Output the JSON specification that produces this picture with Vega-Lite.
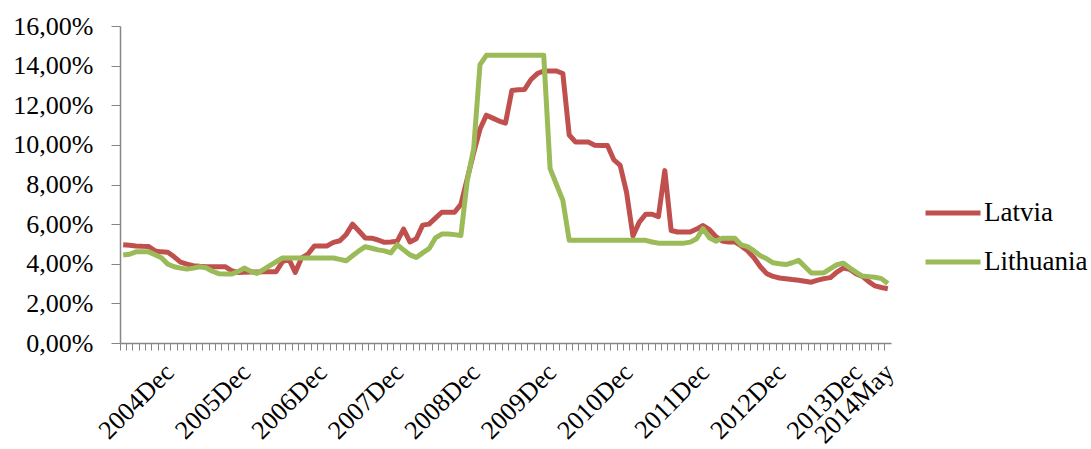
{
  "$schema": "https://vega.github.io/schema/vega-lite/v6.json",
  "autosize": "none",
  "width": 771,
  "height": 317,
  "padding": {"left": 120, "top": 26, "right": 200, "bottom": 106},
  "config": {
    "font": "Liberation Serif",
    "view": {"stroke": null}
  },
  "data": {
    "values": [
      {"m": "2004May", "Latvia": 4.96, "Lithuania": 4.44},
      {"m": "2004Jun", "Latvia": 4.93, "Lithuania": 4.48},
      {"m": "2004Jul", "Latvia": 4.90, "Lithuania": 4.60},
      {"m": "2004Aug", "Latvia": 4.88, "Lithuania": 4.60},
      {"m": "2004Sep", "Latvia": 4.87, "Lithuania": 4.60},
      {"m": "2004Oct", "Latvia": 4.65, "Lithuania": 4.45},
      {"m": "2004Nov", "Latvia": 4.60, "Lithuania": 4.30},
      {"m": "2004Dec", "Latvia": 4.58, "Lithuania": 3.98},
      {"m": "2005Jan", "Latvia": 4.35, "Lithuania": 3.85},
      {"m": "2005Feb", "Latvia": 4.08, "Lithuania": 3.78},
      {"m": "2005Mar", "Latvia": 3.98, "Lithuania": 3.73},
      {"m": "2005Apr", "Latvia": 3.90, "Lithuania": 3.78},
      {"m": "2005May", "Latvia": 3.87, "Lithuania": 3.85},
      {"m": "2005Jun", "Latvia": 3.85, "Lithuania": 3.80},
      {"m": "2005Jul", "Latvia": 3.85, "Lithuania": 3.62},
      {"m": "2005Aug", "Latvia": 3.85, "Lithuania": 3.50},
      {"m": "2005Sep", "Latvia": 3.85, "Lithuania": 3.48},
      {"m": "2005Oct", "Latvia": 3.65, "Lithuania": 3.48},
      {"m": "2005Nov", "Latvia": 3.56, "Lithuania": 3.60},
      {"m": "2005Dec", "Latvia": 3.57, "Lithuania": 3.78},
      {"m": "2006Jan", "Latvia": 3.58, "Lithuania": 3.62},
      {"m": "2006Feb", "Latvia": 3.58, "Lithuania": 3.51},
      {"m": "2006Mar", "Latvia": 3.60, "Lithuania": 3.70},
      {"m": "2006Apr", "Latvia": 3.60, "Lithuania": 3.90},
      {"m": "2006May", "Latvia": 3.60, "Lithuania": 4.10},
      {"m": "2006Jun", "Latvia": 4.10, "Lithuania": 4.29},
      {"m": "2006Jul", "Latvia": 4.24, "Lithuania": 4.29},
      {"m": "2006Aug", "Latvia": 3.56, "Lithuania": 4.29},
      {"m": "2006Sep", "Latvia": 4.30, "Lithuania": 4.29},
      {"m": "2006Oct", "Latvia": 4.49, "Lithuania": 4.29},
      {"m": "2006Nov", "Latvia": 4.90, "Lithuania": 4.29},
      {"m": "2006Dec", "Latvia": 4.90, "Lithuania": 4.29},
      {"m": "2007Jan", "Latvia": 4.90, "Lithuania": 4.29},
      {"m": "2007Feb", "Latvia": 5.08, "Lithuania": 4.29},
      {"m": "2007Mar", "Latvia": 5.16, "Lithuania": 4.22},
      {"m": "2007Apr", "Latvia": 5.48, "Lithuania": 4.15},
      {"m": "2007May", "Latvia": 6.00, "Lithuania": 4.40},
      {"m": "2007Jun", "Latvia": 5.65, "Lithuania": 4.65},
      {"m": "2007Jul", "Latvia": 5.30, "Lithuania": 4.86},
      {"m": "2007Aug", "Latvia": 5.29, "Lithuania": 4.78},
      {"m": "2007Sep", "Latvia": 5.20, "Lithuania": 4.70},
      {"m": "2007Oct", "Latvia": 5.08, "Lithuania": 4.65},
      {"m": "2007Nov", "Latvia": 5.10, "Lithuania": 4.55},
      {"m": "2007Dec", "Latvia": 5.13, "Lithuania": 4.96},
      {"m": "2008Jan", "Latvia": 5.75, "Lithuania": 4.70},
      {"m": "2008Feb", "Latvia": 5.10, "Lithuania": 4.45},
      {"m": "2008Mar", "Latvia": 5.26, "Lithuania": 4.32},
      {"m": "2008Apr", "Latvia": 5.95, "Lithuania": 4.55},
      {"m": "2008May", "Latvia": 6.00, "Lithuania": 4.76},
      {"m": "2008Jun", "Latvia": 6.30, "Lithuania": 5.30},
      {"m": "2008Jul", "Latvia": 6.60, "Lithuania": 5.50},
      {"m": "2008Aug", "Latvia": 6.60, "Lithuania": 5.50},
      {"m": "2008Sep", "Latvia": 6.60, "Lithuania": 5.47},
      {"m": "2008Oct", "Latvia": 7.00, "Lithuania": 5.43},
      {"m": "2008Nov", "Latvia": 8.30, "Lithuania": 8.20},
      {"m": "2008Dec", "Latvia": 9.60, "Lithuania": 9.80},
      {"m": "2009Jan", "Latvia": 10.80, "Lithuania": 14.05},
      {"m": "2009Feb", "Latvia": 11.50, "Lithuania": 14.52},
      {"m": "2009Mar", "Latvia": 11.35, "Lithuania": 14.52},
      {"m": "2009Apr", "Latvia": 11.20, "Lithuania": 14.52},
      {"m": "2009May", "Latvia": 11.10, "Lithuania": 14.52},
      {"m": "2009Jun", "Latvia": 12.75, "Lithuania": 14.52},
      {"m": "2009Jul", "Latvia": 12.78, "Lithuania": 14.52},
      {"m": "2009Aug", "Latvia": 12.80, "Lithuania": 14.52},
      {"m": "2009Sep", "Latvia": 13.30, "Lithuania": 14.52},
      {"m": "2009Oct", "Latvia": 13.60, "Lithuania": 14.52},
      {"m": "2009Nov", "Latvia": 13.73, "Lithuania": 14.52},
      {"m": "2009Dec", "Latvia": 13.73, "Lithuania": 8.80},
      {"m": "2010Jan", "Latvia": 13.73, "Lithuania": 8.00},
      {"m": "2010Feb", "Latvia": 13.60, "Lithuania": 7.20},
      {"m": "2010Mar", "Latvia": 10.50, "Lithuania": 5.18},
      {"m": "2010Apr", "Latvia": 10.14, "Lithuania": 5.18},
      {"m": "2010May", "Latvia": 10.14, "Lithuania": 5.18},
      {"m": "2010Jun", "Latvia": 10.14, "Lithuania": 5.18},
      {"m": "2010Jul", "Latvia": 9.98, "Lithuania": 5.18},
      {"m": "2010Aug", "Latvia": 9.97, "Lithuania": 5.18},
      {"m": "2010Sep", "Latvia": 9.97, "Lithuania": 5.18},
      {"m": "2010Oct", "Latvia": 9.25, "Lithuania": 5.18},
      {"m": "2010Nov", "Latvia": 8.96, "Lithuania": 5.18},
      {"m": "2010Dec", "Latvia": 7.60, "Lithuania": 5.18},
      {"m": "2011Jan", "Latvia": 5.40, "Lithuania": 5.18},
      {"m": "2011Feb", "Latvia": 6.10, "Lithuania": 5.18},
      {"m": "2011Mar", "Latvia": 6.50, "Lithuania": 5.18},
      {"m": "2011Apr", "Latvia": 6.50, "Lithuania": 5.10},
      {"m": "2011May", "Latvia": 6.38, "Lithuania": 5.04},
      {"m": "2011Jun", "Latvia": 8.70, "Lithuania": 5.04},
      {"m": "2011Jul", "Latvia": 5.68, "Lithuania": 5.04},
      {"m": "2011Aug", "Latvia": 5.60, "Lithuania": 5.04},
      {"m": "2011Sep", "Latvia": 5.60, "Lithuania": 5.04},
      {"m": "2011Oct", "Latvia": 5.60, "Lithuania": 5.09},
      {"m": "2011Nov", "Latvia": 5.75, "Lithuania": 5.26},
      {"m": "2011Dec", "Latvia": 5.93, "Lithuania": 5.77},
      {"m": "2012Jan", "Latvia": 5.72, "Lithuania": 5.31},
      {"m": "2012Feb", "Latvia": 5.38, "Lithuania": 5.14},
      {"m": "2012Mar", "Latvia": 5.15, "Lithuania": 5.29},
      {"m": "2012Apr", "Latvia": 5.10, "Lithuania": 5.29},
      {"m": "2012May", "Latvia": 5.10, "Lithuania": 5.29},
      {"m": "2012Jun", "Latvia": 4.90, "Lithuania": 4.95},
      {"m": "2012Jul", "Latvia": 4.65, "Lithuania": 4.86},
      {"m": "2012Aug", "Latvia": 4.30, "Lithuania": 4.65},
      {"m": "2012Sep", "Latvia": 3.85, "Lithuania": 4.40},
      {"m": "2012Oct", "Latvia": 3.50, "Lithuania": 4.25},
      {"m": "2012Nov", "Latvia": 3.36, "Lithuania": 4.05},
      {"m": "2012Dec", "Latvia": 3.28, "Lithuania": 4.00},
      {"m": "2013Jan", "Latvia": 3.24, "Lithuania": 3.96},
      {"m": "2013Feb", "Latvia": 3.20, "Lithuania": 4.05},
      {"m": "2013Mar", "Latvia": 3.17, "Lithuania": 4.17},
      {"m": "2013Apr", "Latvia": 3.12, "Lithuania": 3.85},
      {"m": "2013May", "Latvia": 3.07, "Lithuania": 3.53},
      {"m": "2013Jun", "Latvia": 3.17, "Lithuania": 3.53},
      {"m": "2013Jul", "Latvia": 3.25, "Lithuania": 3.55},
      {"m": "2013Aug", "Latvia": 3.30, "Lithuania": 3.75},
      {"m": "2013Sep", "Latvia": 3.58, "Lithuania": 3.95},
      {"m": "2013Oct", "Latvia": 3.78, "Lithuania": 4.03},
      {"m": "2013Nov", "Latvia": 3.72, "Lithuania": 3.80},
      {"m": "2013Dec", "Latvia": 3.50, "Lithuania": 3.58},
      {"m": "2014Jan", "Latvia": 3.36, "Lithuania": 3.38},
      {"m": "2014Feb", "Latvia": 3.10, "Lithuania": 3.35},
      {"m": "2014Mar", "Latvia": 2.88, "Lithuania": 3.32},
      {"m": "2014Apr", "Latvia": 2.80, "Lithuania": 3.25},
      {"m": "2014May", "Latvia": 2.74, "Lithuania": 3.00}
    ]
  },
  "transform": [
    {"fold": ["Latvia", "Lithuania"], "as": ["country", "rate"]}
  ],
  "mark": {"type": "line", "strokeWidth": 5, "strokeJoin": "round"},
  "encoding": {
    "x": {
      "field": "m",
      "type": "ordinal",
      "sort": null,
      "scale": {"type": "band", "paddingInner": 0, "paddingOuter": 0},
      "axis": {
        "title": null,
        "bandPosition": 0,
        "domainColor": "#868686",
        "domainWidth": 1.5,
        "tickColor": "#868686",
        "tickSize": 7,
        "labelExpr": "indexof(datum.value, 'Dec') > 0 || datum.value == '2014May' ? datum.value : ''",
        "labelOverlap": false,
        "labelAngle": -45,
        "labelAlign": "right",
        "labelBaseline": "middle",
        "labelPadding": 18,
        "labelOffset": 2,
        "labelFont": "Liberation Serif",
        "labelFontSize": 26,
        "labelColor": "#000000"
      }
    },
    "y": {
      "field": "rate",
      "type": "quantitative",
      "scale": {"domain": [0, 16], "nice": false},
      "axis": {
        "title": null,
        "grid": false,
        "values": [0, 2, 4, 6, 8, 10, 12, 14, 16],
        "labelExpr": "replace(format(datum.value, '.2f'), '.', ',') + '%'",
        "domainColor": "#868686",
        "domainWidth": 1.5,
        "tickColor": "#868686",
        "tickSize": 9,
        "labelPadding": 18,
        "labelFont": "Liberation Serif",
        "labelFontSize": 26,
        "labelColor": "#000000"
      }
    },
    "color": {
      "field": "country",
      "type": "nominal",
      "scale": {"domain": ["Latvia", "Lithuania"], "range": ["#C0504D", "#9BBB59"]},
      "legend": {
        "title": null,
        "orient": "none",
        "legendX": 803,
        "legendY": 157,
        "padding": 0,
        "symbolType": "stroke",
        "symbolSize": 3025,
        "symbolStrokeWidth": 5,
        "labelFont": "Liberation Serif",
        "labelFontSize": 27,
        "labelColor": "#000000",
        "labelOffset": 1,
        "rowPadding": 6
      }
    }
  }
}
